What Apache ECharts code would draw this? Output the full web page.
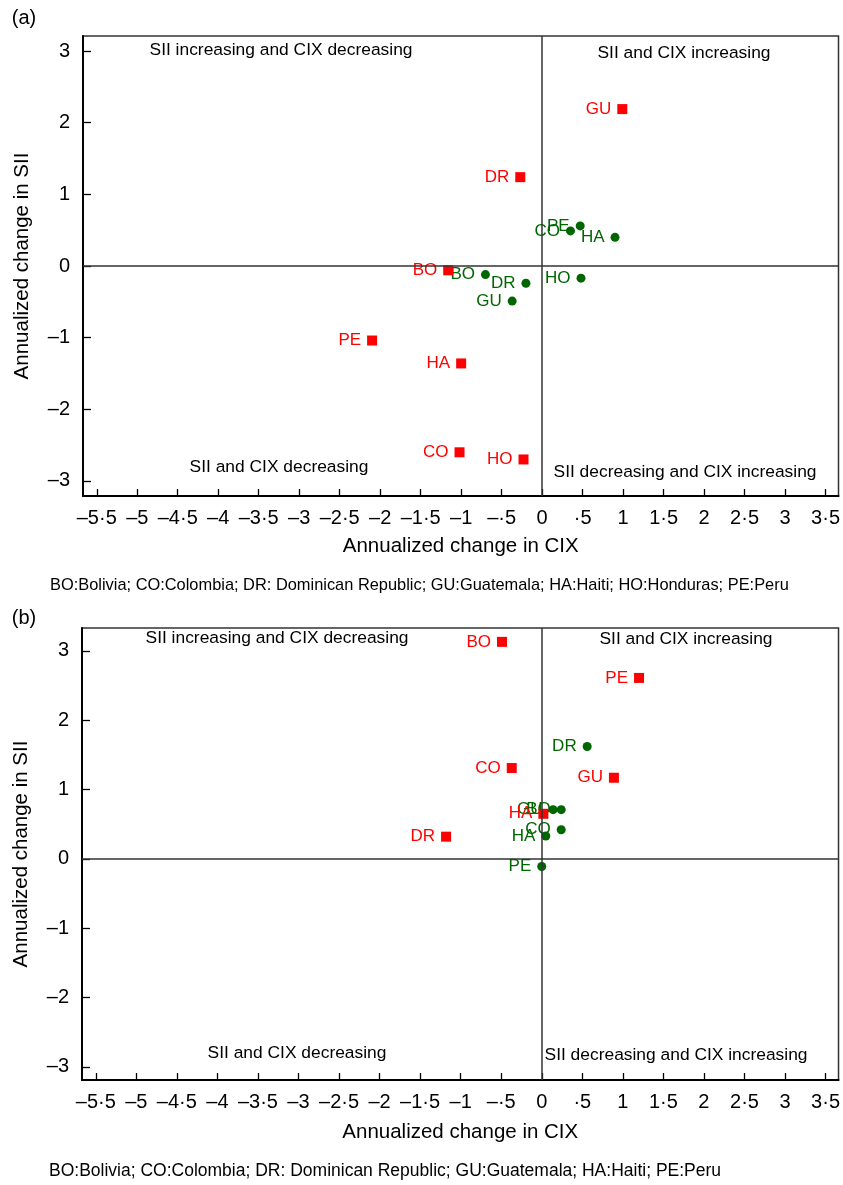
<!DOCTYPE html>
<html>
<head>
<meta charset="utf-8">
<script src="https://cdn.jsdelivr.net/npm/echarts@6/dist/echarts.min.js"></script>
<style>html,body{margin:0;padding:0;background:#fff}#c{width:843px;height:1185px}</style>
</head>
<body>
<div id="c"></div>
<script>
// ---- data ----
var codesA = ['BO', 'CO', 'DR', 'GU', 'HA', 'HO', 'PE'];
var redAX = [-1.16, -1.02, -0.27, 0.99, -1.00, -0.23, -2.10];
var redAY = [-0.06, -2.60, 1.24, 2.19, -1.36, -2.70, -1.04];
var greenAX = [-0.70, 0.35, -0.20, -0.37, 0.90, 0.48, 0.47];
var greenAY = [-0.12, 0.49, -0.24, -0.49, 0.40, -0.17, 0.56];

var codesB = ['BO', 'CO', 'DR', 'GU', 'HA', 'PE'];
var redBX = [-0.49, -0.37, -1.18, 0.89, 0.02, 1.20];
var redBY = [3.13, 1.31, 0.32, 1.17, 0.65, 2.61];
var greenBX = [0.24, 0.24, 0.56, 0.14, 0.05, 0.00];
var greenBY = [0.71, 0.42, 1.62, 0.71, 0.33, -0.11];

var xTicks = [-5.5, -5, -4.5, -4, -3.5, -3, -2.5, -2, -1.5, -1, -0.5, 0, 0.5, 1, 1.5, 2, 2.5, 3, 3.5];
var yTicks = [-3, -2, -1, 0, 1, 2, 3];

var quadText = {
  q2: 'SII increasing and CIX decreasing',
  q1: 'SII and CIX increasing',
  q3: 'SII and CIX decreasing',
  q4: 'SII decreasing and CIX increasing'
};
var footA = 'BO:Bolivia; CO:Colombia; DR: Dominican Republic; GU:Guatemala; HA:Haiti; HO:Honduras; PE:Peru';
var footB = 'BO:Bolivia; CO:Colombia; DR: Dominican Republic; GU:Guatemala; HA:Haiti; PE:Peru';
var xName = 'Annualized change in CIX';
var yName = 'Annualized change in SII';

// ---- helpers ----
var FONT = '"Liberation Sans", Arial, Helvetica, sans-serif';
var RED = '#ff0000', GREEN = '#006600';

function fmt(v) {
  if (Math.abs(v) < 1e-9) return '0';
  var s = String(Math.abs(v));
  if (s.indexOf('0.') === 0) s = s.slice(1);
  s = s.replace('.', '\u00b7');
  return (v < 0 ? '\u2013' : '') + s;
}
function pts(xs, ys, names) {
  return xs.map(function (x, i) { return { value: [x, ys[i]], name: names[i] }; });
}
function xAxisCfg(idx, gap) {
  return {
    type: 'value', gridIndex: idx, min: -5.67, max: 3.66,
    name: xName, nameLocation: 'middle', nameGap: gap,
    nameTextStyle: { fontFamily: FONT, fontSize: 20.5, color: '#000' },
    axisLine: { show: true, onZero: false, lineStyle: { color: '#000', width: 2 } },
    axisTick: { show: true, inside: true, length: 7, customValues: xTicks, lineStyle: { color: '#000', width: 1.3 } },
    axisLabel: { show: true, customValues: xTicks, formatter: fmt, margin: 12, fontFamily: FONT, fontSize: 20, color: '#000' },
    splitLine: { show: false }
  };
}
function yAxisCfg(idx, min, max) {
  return {
    type: 'value', gridIndex: idx, min: min, max: max,
    name: yName, nameLocation: 'middle', nameGap: 50, nameRotate: 90,
    nameTextStyle: { fontFamily: FONT, fontSize: 20.5, color: '#000' },
    axisLine: { show: true, onZero: false, lineStyle: { color: '#000', width: 2 } },
    axisTick: { show: true, inside: true, length: 8, customValues: yTicks, lineStyle: { color: '#000', width: 1.3 } },
    axisLabel: { show: true, customValues: yTicks, formatter: fmt, margin: 13, fontFamily: FONT, fontSize: 20, color: '#000' },
    splitLine: { show: false }
  };
}
function seriesCfg(idx, data, color, symbol, size, withLines) {
  var s = {
    type: 'scatter', xAxisIndex: idx, yAxisIndex: idx, data: data,
    symbol: symbol, symbolSize: size,
    itemStyle: { color: color, opacity: 1 },
    label: { show: true, position: 'left', distance: 6, formatter: '{b}', color: color, fontFamily: FONT, fontSize: 17 },
    emphasis: { disabled: true }, animation: false, z: symbol === 'rect' ? 4 : 3
  };
  if (withLines) {
    s.markLine = {
      silent: true, symbol: 'none', animation: false,
      lineStyle: { color: '#333', width: 1.5, type: 'solid' },
      label: { show: false },
      data: [{ xAxis: 0 }, { yAxis: 0 }]
    };
  }
  return s;
}
function txt(x, y, t, size, align) {
  return { type: 'text', x: x, y: y, style: { text: t, fontFamily: FONT, fontSize: size, fill: '#000', align: align || 'center', verticalAlign: 'middle' }, z: 10 };
}

var chart = echarts.init(document.getElementById('c'), null, { renderer: 'canvas' });
chart.setOption({
  backgroundColor: '#fff',
  animation: false,
  grid: [
    { left: 83, top: 36, width: 759, height: 460, show: true, borderColor: '#333', borderWidth: 1.5, backgroundColor: 'transparent' },
    { left: 82, top: 628, width: 757, height: 452, show: true, borderColor: '#333', borderWidth: 1.5, backgroundColor: 'transparent' }
  ],
  xAxis: [xAxisCfg(0, 40), xAxisCfg(1, 42)],
  yAxis: [yAxisCfg(0, -3.21, 3.21), yAxisCfg(1, -3.19, 3.33)],
  series: [
    seriesCfg(0, pts(greenAX, greenAY, codesA), GREEN, 'circle', 9, true),
    seriesCfg(0, pts(redAX, redAY, codesA), RED, 'rect', 10, false),
    seriesCfg(1, pts(greenBX, greenBY, codesB), GREEN, 'circle', 9, true),
    seriesCfg(1, pts(redBX, redBY, codesB), RED, 'rect', 10, false)
  ],
  graphic: [
    txt(24, 18, '(a)', 20),
    txt(24, 618, '(b)', 20),
    txt(281, 50, quadText.q2, 17.4),
    txt(684, 53, quadText.q1, 17.4),
    txt(279, 467, quadText.q3, 17.4),
    txt(685, 472, quadText.q4, 17.4),
    txt(277, 638, quadText.q2, 17.4),
    txt(686, 639, quadText.q1, 17.4),
    txt(297, 1053, quadText.q3, 17.4),
    txt(676, 1055, quadText.q4, 17.4),
    txt(50, 585, footA, 16.4, 'left'),
    txt(49, 1171, footB, 17.5, 'left')
  ]
});
</script>
</body>
</html>
